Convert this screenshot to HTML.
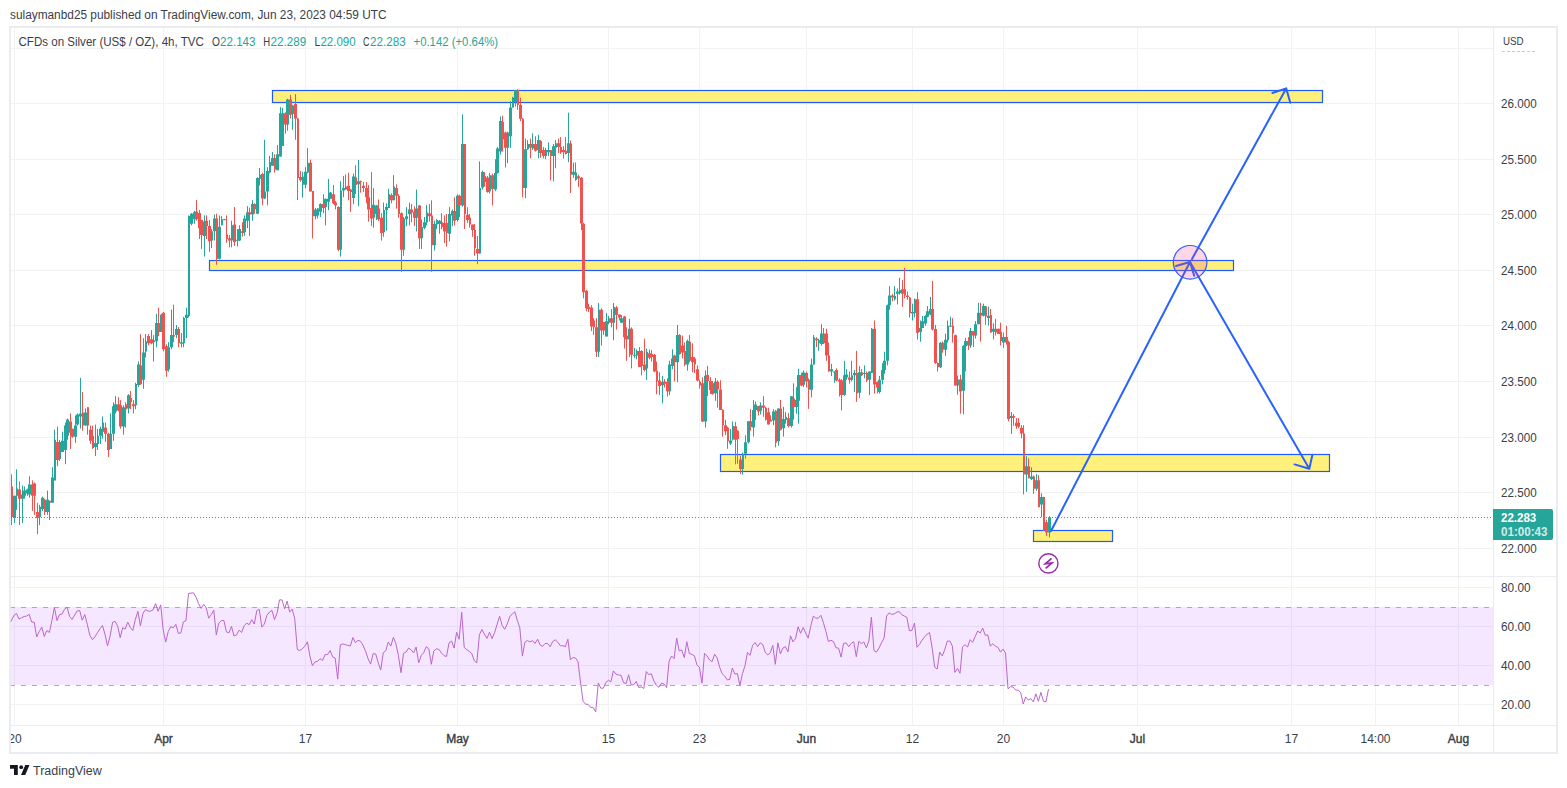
<!DOCTYPE html><html><head><meta charset="utf-8"><style>html,body{margin:0;padding:0;background:#fff;width:1567px;height:788px;overflow:hidden;position:relative}</style></head><body><svg width="1567" height="788" viewBox="0 0 1567 788" style="position:absolute;left:0;top:0;display:block"><rect x="0" y="0" width="1567" height="788" fill="#FFFFFF"/><path d="M14.5 27V725 M163.5 27V725 M305.5 27V725 M457.5 27V725 M608.5 27V725 M699.5 27V725 M806.5 27V725 M912.5 27V725 M1003.5 27V725 M1137.5 27V725 M1291.5 27V725 M1375.5 27V725 M1458.5 27V725 M11 48.5H1493 M11 103.5H1493 M11 159.5H1493 M11 214.5H1493 M11 270.5H1493 M11 325.5H1493 M11 381.5H1493 M11 437.5H1493 M11 492.5H1493 M11 548.5H1493 M11 587.5H1493 M11 626.5H1493 M11 665.5H1493 M11 704.5H1493" stroke="#F1F3F3" stroke-width="1" fill="none"/><rect x="11" y="607" width="1482" height="78" fill="rgba(153,21,255,0.1)"/><path d="M11 607.5H1493M11 685.5H1493" stroke="#A9ACB4" stroke-width="1" stroke-dasharray="5 6" stroke-dashoffset="1" fill="none"/><rect x="10" y="27" width="1547" height="726" fill="none" stroke="#EAECF1" stroke-width="2"/><path d="M1493.5 27V753M10 576.5H1557M10 725.5H1557" stroke="#EAECF1" stroke-width="1" fill="none"/><rect x="272.5" y="90.5" width="1050.0" height="12.0" fill="#FFF07C" stroke="#1F5BFF" stroke-width="1.2"/><rect x="209.5" y="260.5" width="1024.0" height="10.0" fill="#FFF07C" stroke="#1F5BFF" stroke-width="1.2"/><rect x="720.5" y="454.5" width="609.0" height="17.0" fill="#FFF07C" stroke="#1F5BFF" stroke-width="1.2"/><rect x="1033.5" y="530.5" width="79.0" height="11.0" fill="#FFF07C" stroke="#1F5BFF" stroke-width="1.2"/><path d="M14.5 495.7V523.1M16.5 469.3V509.9M22.5 485.5V523.1M24.5 486.5V498.7M27.5 488.6V495.7M29.5 476.4V497.7M39.5 504.8V525.1M42.5 496.7V510.9M47.5 490.6V514.9M52.5 467.2V502.8M54.5 429.7V480.4M59.5 439.8V461.1M62.5 431.7V452.0M65.5 422.6V464.2M67.5 418.5V439.8M75.5 415.5V442.9M77.5 413.4V425.6M80.5 377.9V428.7M85.5 408.4V425.6M95.5 424.6V456.1M97.5 428.7V450.0M100.5 426.6V443.9M102.5 416.5V438.8M110.5 413.4V449.0M113.5 402.3V440.8M115.5 396.2V413.4M123.5 405.3V434.7M128.5 394.1V413.4M135.5 382.8V409.2M138.5 361.5V386.9M143.5 338.2V388.9M145.5 334.1V357.5M153.5 335.1V361.5M156.5 313.8V347.3M161.5 313.8V332.1M168.5 342.2V371.7M171.5 309.7V349.3M176.5 325.0V338.2M181.5 333.1V347.3M183.5 316.9V347.3M186.5 307.7V338.2M188.5 215.4V317.4M191.5 213.1V225.3M194.5 210.8V223.7M204.5 215.4V256.5M211.5 229.1V248.1M214.5 214.6V240.5M219.5 215.4V259.5M221.5 216.1V225.3M224.5 218.9V220.1M231.5 220.7V247.3M237.5 229.1V246.6M239.5 225.3V241.2M244.5 215.4V235.9M247.5 206.2V228.3M252.5 200.1V220.7M257.5 177.3V213.8M259.5 168.0V185.5M264.5 139.8V199.2M267.5 167.2V205.3M269.5 155.8V173.3M272.5 152.0V165.7M277.5 145.1V170.3M280.5 107.1V156.6M282.5 107.8V145.9M287.5 98.7V130.7M292.5 104.8V129.9M302.5 171.8V197.7M305.5 167.2V188.5M307.5 148.2V173.3M315.5 207.9V219.3M317.5 207.9V218.5M320.5 203.3V217.0M325.5 198.7V225.4M328.5 178.9V210.1M330.5 191.9V198.7M340.5 181.2V256.6M343.5 175.9V197.2M353.5 173.6V204.1M358.5 159.9V206.3M373.5 188.1V227.7M376.5 204.8V220.0M383.5 202.5V236.8M386.5 203.3V230.7M388.5 188.8V207.9M393.5 175.1V200.3M403.5 217.0V255.8M406.5 207.1V226.1M409.5 202.5V225.4M416.5 189.6V231.5M421.5 219.3V249.0M424.5 217.0V229.2M426.5 204.8V225.4M434.5 220.8V250.5M436.5 219.3V229.2M439.5 220.0V233.8M449.5 207.1V241.4M452.5 209.4V226.1M457.5 194.2V221.6M462.5 114.3V206.8M479.5 161.4V253.5M482.5 170.6V189.6M489.5 172.9V193.4M495.5 159.2V191.2M497.5 147.0V173.7M500.5 116.5V154.6M507.5 131.8V163.0M510.5 101.3V147.8M512.5 96.8V107.4M515.5 89.9V106.6M525.5 138.6V198.0M527.5 140.1V150.0M532.5 133.3V150.0M538.5 134.8V158.4M545.5 147.8V159.2M548.5 142.4V156.1M553.5 144.0V181.3M555.5 140.1V168.3M568.5 112.7V162.2M573.5 162.5V177.8M575.5 162.5V180.8M598.5 302.9V357.0M606.5 312.8V336.4M608.5 315.9V324.3M613.5 302.9V340.3M621.5 315.1V322.7M629.5 318.9V357.0M634.5 347.9V357.8M636.5 349.4V359.3M646.5 348.6V379.8M662.5 376.0V403.4M669.5 360.8V395.1M672.5 349.4V369.2M677.5 325.0V382.1M687.5 339.5V370.7M705.5 370.4V427.5M715.5 378.0V400.8M730.5 429.0V445.0M732.5 421.4V440.4M742.5 452.4V474.6M745.5 435.2V458.7M748.5 421.3V443.5M753.5 400.0V436.6M755.5 401.6V419.8M760.5 402.3V414.5M773.5 409.2V425.2M778.5 408.4V445.7M783.5 406.9V436.6M785.5 412.2V423.7M791.5 396.2V427.5M796.5 387.1V413.8M798.5 368.8V423.7M803.5 370.4V387.1M811.5 358.5V397.4M813.5 334.9V364.6M818.5 338.7V350.9M821.5 324.3V345.6M831.5 363.9V376.0M834.5 371.5V382.9M844.5 360.8V395.8M846.5 369.2V379.8M851.5 360.8V381.4M854.5 369.9V392.0M859.5 366.1V398.1M864.5 365.4V378.3M869.5 371.5V395.1M871.5 328.1V373.0M879.5 376.0V393.5M882.5 363.1V384.4M884.5 351.7V373.8M887.5 304.5V365.4M889.5 286.2V309.8M894.5 286.2V300.7M897.5 288.5V304.5M899.5 277.8V294.6M912.5 303.7V320.5M914.5 298.4V317.4M920.5 320.5V341.8M922.5 315.9V328.1M925.5 315.1V325.8M927.5 306.0V317.4M930.5 296.9V315.1M940.5 342.1V368.0M945.5 333.7V355.8M947.5 320.5V342.6M950.5 316.7V326.6M957.5 375.6V394.6M963.5 345.1V414.4M965.5 337.9V371.4M970.5 328.0V347.8M975.5 321.1V338.6M978.5 302.8V324.2M983.5 303.6V316.5M988.5 306.6V325.7M993.5 323.4V339.4M1003.5 332.5V347.8M1011.5 412.0V433.9M1026.5 456.2V491.8M1031.5 467.4V480.1M1036.5 474.1V490.8M1041.5 493.4V517.2M1049.5 516.2V537.5" stroke="#26A69A" stroke-width="1" fill="none"/><path d="M13 495.7H16V518.0H13ZM16 488.6H18V495.7H16ZM21 494.6H24V498.7H21ZM23 490.6H26V495.7H23ZM26 489.6H29V493.6H26ZM28 484.5H31V494.6H28ZM39 506.8H41V517.0H39ZM41 497.7H44V508.9H41ZM46 499.7H49V511.9H46ZM51 477.4H54V502.8H51ZM54 439.8H56V480.4H54ZM59 441.9H61V459.1H59ZM61 440.8H64V452.0H61ZM64 425.6H67V450.0H64ZM66 419.5H69V435.8H66ZM74 425.6H77V436.8H74ZM76 414.4H79V424.6H76ZM79 413.4H82V416.5H79ZM84 412.4H87V425.6H84ZM94 442.9H97V446.9H94ZM97 435.8H99V443.9H97ZM99 428.7H102V435.8H99ZM102 422.6H104V431.7H102ZM109 433.7H112V449.0H109ZM112 406.3H115V433.7H112ZM114 404.3H117V411.4H114ZM122 407.3H125V426.6H122ZM127 395.2H130V408.4H127ZM135 383.9H137V405.2H135ZM137 364.6H140V384.9H137ZM142 352.4H145V379.8H142ZM145 341.2H147V351.4H145ZM152 340.2H155V342.2H152ZM155 322.9H158V341.2H155ZM160 314.8H163V332.1H160ZM168 347.3H170V369.6H168ZM170 335.1H173V347.3H170ZM175 329.0H178V335.1H175ZM180 342.2H183V343.7H180ZM183 317.9H185V343.2H183ZM185 314.8H188V317.9H185ZM188 216.1H190V315.7H188ZM190 213.8H193V223.7H190ZM193 212.3H196V219.2H193ZM203 221.4H206V235.9H203ZM211 231.3H213V240.5H211ZM213 218.4H216V231.3H213ZM218 226.8H221V258.8H218ZM221 219.2H223V225.3H221ZM223 219.2H226V220.2H223ZM231 225.3H233V240.5H231ZM236 239.7H239V240.7H236ZM238 229.1H241V240.5H238ZM243 218.4H246V232.1H243ZM246 212.3H249V220.7H246ZM251 203.9H254V214.6H251ZM256 178.0H259V213.8H256ZM259 174.8H261V178.7H259ZM264 191.6H266V198.4H264ZM266 171.0H269V191.6H266ZM269 161.9H271V172.6H269ZM271 158.1H274V165.7H271ZM276 154.3H279V170.3H276ZM279 113.2H282V156.6H279ZM281 113.2H284V145.9H281ZM286 99.5H289V124.6H286ZM291 105.6H294V113.9H291ZM302 176.4H304V184.7H302ZM304 171.8H307V184.7H304ZM307 162.7H309V172.6H307ZM314 209.4H317V216.2H314ZM317 208.6H319V215.5H317ZM319 204.1H322V211.7H319ZM324 198.7H327V207.1H324ZM327 198.7H330V201.8H327ZM329 192.6H332V198.7H329ZM340 190.4H342V249.7H340ZM342 188.1H345V190.4H342ZM352 176.6H355V198.0H352ZM357 181.2H360V184.3H357ZM372 204.8H375V217.8H372ZM375 205.6H378V214.0H375ZM383 210.1H385V232.2H383ZM385 207.1H388V210.1H385ZM388 194.2H390V207.9H388ZM393 186.5H395V200.3H393ZM403 218.5H405V249.7H403ZM405 216.2H408V219.3H405ZM408 209.4H411V214.0H408ZM415 208.6H418V217.8H415ZM420 226.9H423V238.3H420ZM423 222.3H426V227.7H423ZM426 212.4H428V222.3H426ZM433 223.9H436V245.2H433ZM436 220.0H438V224.6H436ZM438 220.8H441V223.9H438ZM448 214.0H451V233.8H448ZM451 210.9H454V215.5H451ZM456 195.7H459V220.0H456ZM461 144.0H464V205.6H461ZM479 188.1H481V253.5H479ZM481 172.1H484V187.4H481ZM489 175.2H491V191.2H489ZM494 172.9H497V189.6H494ZM496 148.5H499V172.9H496ZM499 121.1H502V151.6H499ZM507 132.5H509V147.8H507ZM509 107.4H512V136.3H509ZM512 97.5H514V107.4H512ZM514 89.9H517V102.1H514ZM524 149.3H527V188.1H524ZM527 144.0H529V149.3H527ZM532 144.0H534V148.5H532ZM537 140.1H540V150.0H537ZM544 150.0H547V156.1H544ZM547 150.0H550V152.3H547ZM552 146.2H555V156.1H552ZM555 143.2H557V147.8H555ZM567 143.2H570V153.1H567ZM572 171.7H575V174.7H572ZM575 172.4H577V180.0H575ZM598 309.8H600V351.7H598ZM605 321.2H608V336.4H605ZM608 318.2H610V322.7H608ZM613 306.8H615V322.7H613ZM620 318.2H623V322.7H620ZM628 328.8H631V339.5H628ZM633 354.7H636V355.7H633ZM636 350.9H638V355.5H636ZM646 351.7H648V368.4H646ZM661 382.1H664V385.2H661ZM668 364.6H671V391.3H668ZM671 358.5H674V366.1H671ZM676 334.9H679V362.3H676ZM686 341.0H689V364.6H686ZM704 375.7H707V421.4H704ZM714 381.8H717V393.2H714ZM729 440.4H732V443.4H729ZM732 425.9H734V439.6H732ZM742 453.7H744V468.9H742ZM744 442.2H747V453.7H744ZM747 421.3H750V442.2H747ZM752 409.9H755V427.5H752ZM754 404.6H757V409.9H754ZM759 405.4H762V410.7H759ZM772 411.5H775V420.6H772ZM777 408.4H780V441.2H777ZM782 419.1H785V428.2H782ZM785 416.8H787V419.8H785ZM790 396.2H793V425.9H790ZM795 400.0H798V406.9H795ZM797 374.9H800V400.8H797ZM802 372.6H805V384.8H802ZM810 364.6H813V389.7H810ZM813 337.2H815V364.6H813ZM818 340.3H820V343.3H818ZM820 333.4H823V344.1H820ZM830 369.2H833V371.5H830ZM833 371.5H836V372.5H833ZM843 375.3H846V395.1H843ZM845 374.5H848V377.6H845ZM851 375.3H853V379.8H851ZM853 373.0H856V375.3H853ZM858 372.2H861V392.8H858ZM863 373.0H866V374.0H863ZM868 371.5H871V379.8H868ZM871 328.8H873V373.0H871ZM878 379.8H881V392.0H878ZM881 369.9H884V379.8H881ZM883 360.8H886V369.9H883ZM886 305.2H889V360.8H886ZM888 295.4H891V305.3H888ZM894 296.1H896V299.2H894ZM896 291.5H899V293.8H896ZM899 290.0H901V293.1H899ZM911 312.1H914V313.6H911ZM914 299.2H916V312.9H914ZM919 328.1H922V331.9H919ZM921 321.2H924V328.1H921ZM924 315.9H927V323.5H924ZM926 311.3H929V316.7H926ZM929 309.1H932V314.4H929ZM939 342.8H942V367.2H939ZM944 339.8H947V349.7H944ZM947 325.8H949V340.3H947ZM949 325.8H952V326.8H949ZM957 379.4H959V385.5H957ZM962 345.9H965V390.8H962ZM964 340.9H967V346.2H964ZM969 331.0H972V345.5H969ZM974 324.2H977V335.6H974ZM977 312.7H980V324.2H977ZM982 305.9H985V315.8H982ZM987 315.8H990V318.1H987ZM992 328.7H995V331.8H992ZM1002 337.1H1005V342.4H1002ZM1010 416.1H1013V418.1H1010ZM1025 466.3H1028V474.6H1025ZM1030 476.5H1033V479.0H1030ZM1035 480.2H1038V488.8H1035ZM1040 496.9H1043V504.5H1040ZM1048 517.2H1051V532.4H1048Z" fill="#26A69A"/><path d="M11.5 474.3V525.1M19.5 481.4V525.1M32.5 480.4V510.9M34.5 482.5V514.9M37.5 502.8V534.2M44.5 498.7V514.9M49.5 500.7V520.0M57.5 426.6V466.2M70.5 413.4V449.0M72.5 428.7V437.8M82.5 392.1V430.7M87.5 407.3V434.7M90.5 425.6V443.9M92.5 425.6V449.0M105.5 422.6V441.9M108.5 432.7V457.1M118.5 397.2V411.4M120.5 400.2V428.7M125.5 402.3V427.6M130.5 391.0V409.2M133.5 400.1V413.3M140.5 334.1V384.9M148.5 334.1V345.3M151.5 330.1V344.3M158.5 307.7V336.1M163.5 311.8V351.4M166.5 344.3V376.8M173.5 304.7V342.2M178.5 327.0V347.3M196.5 200.1V220.7M199.5 210.0V239.0M201.5 219.9V248.9M206.5 215.4V239.0M209.5 219.9V251.9M216.5 213.8V264.8M226.5 215.4V242.8M229.5 235.1V247.3M234.5 207.0V245.8M242.5 222.2V236.7M249.5 207.7V235.9M254.5 203.2V213.8M262.5 172.6V205.3M274.5 154.3V172.6M285.5 112.4V133.7M290.5 94.9V118.5M295.5 94.1V139.8M297.5 117.7V200.0M300.5 171.0V181.7M310.5 159.6V191.6M312.5 191.1V238.3M323.5 194.2V213.2M333.5 185.0V204.1M335.5 201.0V209.4M338.5 206.3V251.3M345.5 174.4V189.6M348.5 172.8V200.3M350.5 188.8V211.7M355.5 165.2V194.2M360.5 180.5V192.6M363.5 182.0V191.9M366.5 182.0V203.3M368.5 185.0V221.6M371.5 172.1V226.1M378.5 199.5V220.8M381.5 213.2V240.6M391.5 193.4V203.3M396.5 184.3V208.6M398.5 194.2V217.8M401.5 212.4V271.8M411.5 204.1V222.3M414.5 206.3V226.1M419.5 204.8V249.0M429.5 204.1V221.6M431.5 200.3V271.8M441.5 213.2V229.2M444.5 215.5V242.9M446.5 214.0V246.7M454.5 197.2V225.4M459.5 194.9V217.0M464.5 144.0V229.1M467.5 207.1V223.1M469.5 214.0V227.7M472.5 224.6V236.8M474.5 223.9V255.8M477.5 236.0V264.2M484.5 172.1V186.6M487.5 175.9V192.7M492.5 173.7V205.5M502.5 115.8V151.6M505.5 131.8V167.6M517.5 89.1V109.7M520.5 97.5V121.1M522.5 118.1V197.3M530.5 138.6V158.4M535.5 136.3V151.6M540.5 140.1V157.7M543.5 147.0V158.4M550.5 150.0V180.5M558.5 138.6V153.1M560.5 137.1V153.9M563.5 146.2V158.4M565.5 137.1V154.6M570.5 140.5V193.0M578.5 174.7V186.9M581.5 177.0V230.0M583.5 222.9V298.3M586.5 290.0V311.3M588.5 303.7V312.1M591.5 305.2V331.1M593.5 318.2V334.9M596.5 318.2V357.0M601.5 308.3V345.6M603.5 322.0V334.9M611.5 309.0V327.3M616.5 306.0V329.6M619.5 314.4V320.5M624.5 315.9V348.6M626.5 327.3V360.8M631.5 327.3V368.4M639.5 347.1V366.9M641.5 350.1V375.3M644.5 338.7V371.5M649.5 349.4V359.3M651.5 350.1V361.6M654.5 354.0V372.2M656.5 361.6V394.3M659.5 372.2V395.1M664.5 379.1V387.5M667.5 378.3V396.6M674.5 354.7V381.4M679.5 334.2V354.7M682.5 335.7V358.5M684.5 342.5V366.1M689.5 334.9V362.3M692.5 343.3V372.2M694.5 357.0V373.0M697.5 365.4V381.4M699.5 379.5V388.6M702.5 377.2V422.1M707.5 365.8V396.2M710.5 377.2V394.0M712.5 381.0V394.7M717.5 380.3V407.7M720.5 380.3V409.9M722.5 409.2V436.6M725.5 419.8V435.1M727.5 426.7V448.8M735.5 421.9V464.4M737.5 430.2V463.8M740.5 455.6V474.0M750.5 409.2V430.8M758.5 406.1V415.3M763.5 396.2V416.8M765.5 406.9V420.6M768.5 407.7V424.4M770.5 415.3V421.4M775.5 409.9V447.3M780.5 400.0V430.5M788.5 413.0V427.5M793.5 383.3V419.8M801.5 372.6V386.3M806.5 371.5V387.5M808.5 378.3V408.8M816.5 337.2V347.1M823.5 328.1V344.1M826.5 328.8V360.8M828.5 342.5V371.5M836.5 368.4V381.4M839.5 378.3V396.6M841.5 379.1V410.3M849.5 371.5V383.7M856.5 350.9V401.9M861.5 369.2V376.0M866.5 371.5V382.1M874.5 320.5V393.5M877.5 381.4V393.5M892.5 293.8V301.4M902.5 280.1V306.8M904.5 267.9V298.4M907.5 291.5V299.9M909.5 296.9V317.4M917.5 292.3V339.5M932.5 280.9V330.4M935.5 325.0V363.9M937.5 362.4V371.5M942.5 341.3V352.7M952.5 318.2V342.6M955.5 334.5V385.5M960.5 374.8V413.7M968.5 337.1V350.0M973.5 331.0V347.0M980.5 302.8V341.7M985.5 305.9V324.9M990.5 308.9V332.5M995.5 318.8V335.6M998.5 328.7V334.1M1000.5 322.6V345.5M1006.5 325.7V344.7M1008.5 340.6V421.3M1013.5 414.1V425.7M1016.5 418.1V428.8M1018.5 418.1V428.3M1021.5 425.2V438.4M1023.5 425.2V494.4M1028.5 458.2V478.5M1033.5 475.5V493.9M1038.5 475.1V507.6M1043.5 496.9V530.9M1046.5 519.7V536.0" stroke="#EF5350" stroke-width="1" fill="none"/><path d="M11 486.5H13V517.0H11ZM18 489.6H21V498.7H18ZM31 484.5H34V495.7H31ZM33 483.5H36V495.7H33ZM36 511.9H39V518.0H36ZM44 499.7H46V511.9H44ZM49 500.7H51V502.8H49ZM56 441.9H59V460.1H56ZM69 421.5H72V432.7H69ZM71 428.7H74V436.8H71ZM82 412.4H84V425.6H82ZM87 407.3H89V425.6H87ZM89 429.7H92V440.8H89ZM92 435.8H94V447.9H92ZM104 427.6H107V433.7H104ZM107 433.7H110V450.0H107ZM117 404.3H120V410.4H117ZM119 405.3H122V426.6H119ZM125 404.3H127V409.4H125ZM130 398.1H132V402.1H130ZM132 404.2H135V406.2H132ZM140 365.6H142V383.9H140ZM147 336.1H150V343.2H147ZM150 339.2H153V343.2H150ZM157 322.9H160V332.1H157ZM162 312.8H165V349.3H162ZM165 346.3H168V370.7H165ZM173 335.1H175V336.8H173ZM178 329.0H180V343.2H178ZM195 211.5H198V219.2H195ZM198 213.1H201V228.3H198ZM200 219.9H203V235.1H200ZM205 220.7H208V226.0H205ZM208 226.0H211V241.2H208ZM216 218.4H218V258.8H216ZM226 234.4H228V239.0H226ZM228 238.2H231V240.5H228ZM233 224.5H236V242.0H233ZM241 231.3H244V232.9H241ZM248 212.3H251V214.6H248ZM254 203.9H256V209.3H254ZM261 174.1H264V198.4H261ZM274 158.1H276V169.5H274ZM284 113.2H287V124.6H284ZM289 99.5H292V114.7H289ZM294 104.0H297V118.5H294ZM297 118.5H299V177.9H297ZM299 177.1H302V180.2H299ZM309 162.7H312V191.6H309ZM312 191.1H314V216.2H312ZM322 204.1H325V207.9H322ZM332 194.2H335V203.3H332ZM334 202.5H337V205.6H334ZM337 207.1H340V249.7H337ZM345 186.5H347V189.6H345ZM347 185.8H350V191.1H347ZM350 189.6H352V191.9H350ZM355 177.4H357V185.0H355ZM360 181.2H362V182.3H360ZM362 185.8H365V188.1H362ZM365 188.1H368V197.2H365ZM367 197.2H370V209.4H367ZM370 207.9H373V218.5H370ZM377 208.6H380V219.3H377ZM380 217.8H383V233.0H380ZM390 194.9H393V200.3H390ZM395 188.1H398V195.7H395ZM398 195.7H400V214.0H398ZM400 213.2H403V249.7H400ZM410 209.4H413V212.4H410ZM413 211.7H416V217.8H413ZM418 205.6H421V238.3H418ZM428 213.2H431V216.2H428ZM431 215.5H433V245.2H431ZM441 222.3H443V226.9H441ZM443 223.1H446V231.5H443ZM446 223.1H448V233.0H446ZM453 210.9H456V220.8H453ZM458 195.7H461V205.6H458ZM464 144.0H466V214.0H464ZM466 214.7H469V220.0H466ZM469 217.8H471V224.6H469ZM471 224.6H474V229.9H471ZM474 229.9H476V248.2H474ZM476 249.0H479V253.5H476ZM484 175.9H486V182.0H484ZM486 177.5H489V191.9H486ZM491 175.2H494V188.9H491ZM501 121.9H504V139.4H501ZM504 132.5H507V147.8H504ZM517 89.9H519V105.1H517ZM519 105.1H522V118.8H519ZM522 118.8H524V188.1H522ZM529 144.0H532V147.8H529ZM534 144.0H537V150.8H534ZM539 140.9H542V153.1H539ZM542 150.0H545V156.1H542ZM550 150.0H552V156.1H550ZM557 143.2H560V147.0H557ZM560 147.0H562V152.3H560ZM562 150.0H565V152.3H562ZM565 150.8H567V153.9H565ZM570 143.5H572V174.7H570ZM577 176.2H580V178.5H577ZM580 177.8H583V223.4H580ZM582 223.7H585V292.2H582ZM585 290.8H588V308.3H585ZM587 306.8H590V309.0H587ZM590 307.5H593V326.5H590ZM593 320.5H595V327.3H593ZM595 327.3H598V351.7H595ZM600 309.8H603V330.4H600ZM603 322.0H605V330.4H603ZM610 318.2H613V322.7H610ZM615 307.5H618V315.1H615ZM618 314.4H621V317.4H618ZM623 316.6H626V337.2H623ZM625 335.7H628V339.5H625ZM630 328.8H633V354.7H630ZM638 350.9H641V366.9H638ZM641 350.9H643V366.1H641ZM643 364.6H646V369.9H643ZM648 353.2H651V357.8H648ZM651 354.0H653V357.0H651ZM653 354.7H656V371.5H653ZM656 370.7H658V381.4H656ZM658 380.6H661V385.9H658ZM663 381.4H666V383.7H663ZM666 382.1H669V391.3H666ZM673 355.5H676V362.3H673ZM679 334.9H681V354.0H679ZM681 345.6H684V352.4H681ZM684 350.9H686V364.6H684ZM689 341.8H691V360.8H689ZM691 357.0H694V362.3H691ZM694 358.5H696V364.6H694ZM696 369.2H699V380.6H696ZM699 381.8H701V385.6H699ZM701 383.3H704V421.4H701ZM706 374.9H709V381.0H706ZM709 381.0H712V390.1H709ZM711 383.3H714V394.0H711ZM716 381.8H719V389.4H716ZM719 389.4H722V409.9H719ZM722 409.9H724V425.2H722ZM724 425.2H727V431.3H724ZM727 427.5H729V441.2H727ZM734 426.3H737V439.7H734ZM737 430.8H739V439.0H737ZM739 459.4H742V468.9H739ZM749 421.3H752V427.0H749ZM757 406.1H760V411.5H757ZM762 405.4H765V407.7H762ZM765 407.7H767V419.8H765ZM767 412.2H770V424.4H767ZM770 419.8H772V421.4H770ZM775 410.7H777V442.7H775ZM780 408.4H782V429.7H780ZM787 418.3H790V425.9H787ZM792 398.5H795V406.9H792ZM800 374.9H803V385.6H800ZM805 373.0H808V381.4H805ZM808 379.8H810V389.7H808ZM815 338.7H818V340.3H815ZM823 333.4H825V343.3H823ZM825 333.4H828V355.5H825ZM828 355.5H830V371.5H828ZM835 369.9H838V380.6H835ZM838 379.8H841V381.4H838ZM840 380.6H843V395.1H840ZM848 377.6H851V379.8H848ZM856 373.0H858V393.5H856ZM861 372.2H863V375.3H861ZM866 373.0H868V380.6H866ZM873 328.8H876V384.4H873ZM876 382.1H879V387.5H876ZM891 295.4H894V297.6H891ZM901 289.3H904V293.8H901ZM904 289.3H906V295.4H904ZM906 295.4H909V296.9H906ZM909 297.6H911V312.9H909ZM916 299.2H919V332.7H916ZM931 309.1H934V329.6H931ZM934 328.9H937V363.1H934ZM937 363.1H939V366.9H937ZM942 342.8H944V349.7H942ZM952 325.8H954V333.4H952ZM954 335.2H957V385.5H954ZM959 379.4H962V391.6H959ZM967 340.9H970V345.5H967ZM972 331.0H975V335.6H972ZM980 312.7H982V315.8H980ZM985 306.6H987V316.5H985ZM990 315.0H992V332.5H990ZM995 328.7H997V332.5H995ZM997 328.7H1000V334.1H997ZM1000 331.8H1002V340.9H1000ZM1005 337.1H1008V342.4H1005ZM1007 342.1H1010V419.0H1007ZM1012 416.1H1015V417.6H1012ZM1015 422.7H1018V426.2H1015ZM1017 422.7H1020V426.8H1017ZM1020 427.8H1023V433.4H1020ZM1023 433.4H1025V474.5H1023ZM1028 466.3H1030V478.0H1028ZM1033 476.5H1035V488.8H1033ZM1038 480.2H1040V507.1H1038ZM1043 496.9H1045V530.4H1043ZM1045 522.3H1048V532.4H1045Z" fill="#EF5350"/><path d="M11 517.5H1493" stroke="#26A69A" stroke-width="1" stroke-dasharray="1 2" fill="none"/><path d="M10.9 621.6 L13.9 615.4 L16.5 613.5 L19.0 619.1 L21.5 617.8 L24.1 616.5 L26.6 616.1 L29.1 614.3 L31.7 622.1 L34.2 622.1 L36.7 637.0 L39.2 631.5 L41.8 627.2 L44.3 636.5 L46.8 630.5 L49.4 632.5 L51.9 620.7 L54.4 607.5 L57.0 620.6 L59.5 614.5 L62.0 614.1 L64.5 609.2 L67.1 607.2 L69.6 616.6 L72.1 619.4 L74.7 615.0 L77.2 610.9 L79.7 610.5 L82.2 620.2 L84.8 614.6 L87.3 624.6 L89.8 635.1 L92.4 639.7 L94.9 636.8 L97.4 632.8 L100.0 628.8 L102.5 625.5 L105.0 634.4 L107.5 645.9 L110.1 636.0 L112.6 622.3 L115.1 621.4 L117.7 626.1 L120.2 637.7 L122.7 627.7 L125.2 629.1 L127.8 622.1 L130.3 627.5 L132.8 630.6 L135.4 619.3 L137.9 611.4 L140.4 625.7 L143.0 613.3 L145.5 609.6 L148.0 611.1 L150.5 611.1 L153.1 609.9 L155.6 603.5 L158.1 611.3 L160.7 604.9 L163.2 629.9 L165.7 642.1 L168.2 631.6 L170.8 626.7 L173.3 627.7 L175.8 624.4 L178.4 633.4 L180.9 632.9 L183.4 621.9 L186.0 620.6 L188.5 593.5 L191.0 593.1 L193.5 592.8 L196.1 597.5 L198.6 603.7 L201.1 608.4 L203.7 604.4 L206.2 607.6 L208.7 618.2 L211.3 614.6 L213.8 610.1 L216.3 634.9 L218.8 623.1 L221.4 620.5 L223.9 620.5 L226.4 631.9 L229.0 632.8 L231.5 626.4 L234.0 636.0 L236.5 635.0 L239.1 630.1 L241.6 632.5 L244.1 625.8 L246.7 623.1 L249.2 624.7 L251.7 619.7 L254.3 624.0 L256.8 610.6 L259.3 609.4 L261.8 627.1 L264.4 624.0 L266.9 615.4 L269.4 612.0 L272.0 610.5 L274.5 619.6 L277.0 613.3 L279.5 599.9 L282.1 599.9 L284.6 608.9 L287.1 601.1 L289.7 612.1 L292.2 609.1 L294.7 618.2 L297.3 649.6 L299.8 650.6 L302.3 648.7 L304.8 646.4 L307.4 641.8 L309.9 655.9 L312.4 665.7 L315.0 661.9 L317.5 661.4 L320.0 658.7 L322.5 660.5 L325.1 654.6 L327.6 654.6 L330.1 650.5 L332.7 656.9 L335.2 658.2 L337.7 679.1 L340.3 644.9 L342.8 643.9 L345.3 644.6 L347.8 645.4 L350.4 645.9 L352.9 637.5 L355.4 642.6 L358.0 640.4 L360.5 641.2 L363.0 645.2 L365.6 651.3 L368.1 658.8 L370.6 664.1 L373.1 653.6 L375.7 654.0 L378.2 662.6 L380.7 670.1 L383.3 652.7 L385.8 650.6 L388.3 642.0 L390.8 646.1 L393.4 637.3 L395.9 643.8 L398.4 655.4 L401.0 672.7 L403.5 653.3 L406.0 652.1 L408.6 648.1 L411.1 649.8 L413.6 652.9 L416.1 647.0 L418.7 662.9 L421.2 655.6 L423.7 652.7 L426.3 646.6 L428.8 648.9 L431.3 664.3 L433.8 651.0 L436.4 648.8 L438.9 649.3 L441.4 652.9 L444.0 655.6 L446.5 656.5 L449.0 643.0 L451.6 641.0 L454.1 648.1 L456.6 632.3 L459.1 639.3 L461.7 612.3 L464.2 647.3 L466.7 649.6 L469.3 651.4 L471.8 653.6 L474.3 660.8 L476.8 662.9 L479.4 634.8 L481.9 629.5 L484.4 634.0 L487.0 638.4 L489.5 632.2 L492.0 638.6 L494.6 632.6 L497.1 624.3 L499.6 616.2 L502.1 625.3 L504.7 629.3 L507.2 624.2 L509.7 616.7 L512.3 613.9 L514.8 611.8 L517.3 620.4 L519.8 627.8 L522.4 656.1 L524.9 642.3 L527.4 640.5 L530.0 642.0 L532.5 640.6 L535.0 643.5 L537.6 639.2 L540.1 645.0 L542.6 646.4 L545.1 643.5 L547.7 643.5 L550.2 646.8 L552.7 641.5 L555.3 639.8 L557.8 642.2 L560.3 645.7 L562.9 645.7 L565.4 646.7 L567.9 639.2 L570.4 659.7 L573.0 657.5 L575.5 658.0 L578.0 661.7 L580.6 683.0 L583.1 701.2 L585.6 704.2 L588.1 704.3 L590.7 707.5 L593.2 707.6 L595.7 711.8 L598.3 683.0 L600.8 688.2 L603.3 688.2 L605.9 682.3 L608.4 680.3 L610.9 681.8 L613.4 670.9 L616.0 674.1 L618.5 675.0 L621.0 675.3 L623.6 682.7 L626.1 683.6 L628.6 674.8 L631.1 684.8 L633.7 684.8 L636.2 681.5 L638.7 687.6 L641.3 686.9 L643.8 688.4 L646.3 671.6 L648.9 674.6 L651.4 673.9 L653.9 681.0 L656.4 685.3 L659.0 687.3 L661.5 683.2 L664.0 684.0 L666.6 687.7 L669.1 661.1 L671.6 656.0 L674.1 658.6 L676.7 638.2 L679.2 651.0 L681.7 649.9 L684.3 657.6 L686.8 641.7 L689.3 653.5 L691.9 654.4 L694.4 655.8 L696.9 664.8 L699.4 667.4 L702.0 683.1 L704.5 653.4 L707.0 655.9 L709.6 660.0 L712.1 661.7 L714.6 654.2 L717.2 658.0 L719.7 667.5 L722.2 673.7 L724.7 676.1 L727.3 679.9 L729.8 679.3 L732.3 668.0 L734.9 674.1 L737.4 673.6 L739.9 685.4 L742.4 673.8 L745.0 665.7 L747.5 652.5 L750.0 655.4 L752.6 645.4 L755.1 642.5 L757.6 646.6 L760.2 642.9 L762.7 644.4 L765.2 652.2 L767.7 655.0 L770.3 652.7 L772.8 645.4 L775.3 664.3 L777.9 642.8 L780.4 653.9 L782.9 648.0 L785.4 646.7 L788.0 651.8 L790.5 635.8 L793.0 641.9 L795.6 638.4 L798.1 626.8 L800.6 633.3 L803.2 627.5 L805.7 633.0 L808.2 638.1 L810.7 626.4 L813.3 616.1 L815.8 618.1 L818.3 618.1 L820.9 615.4 L823.4 622.7 L825.9 631.3 L828.4 641.5 L831.0 640.2 L833.5 641.7 L836.0 647.7 L838.6 648.2 L841.1 657.1 L843.6 643.4 L846.2 642.9 L848.7 646.7 L851.2 643.4 L853.7 641.7 L856.3 656.7 L858.8 641.4 L861.3 643.6 L863.9 642.0 L866.4 647.8 L868.9 640.9 L871.4 617.2 L874.0 650.7 L876.5 652.1 L879.0 648.0 L881.6 642.7 L884.1 638.0 L886.6 616.0 L889.2 612.9 L891.7 614.4 L894.2 613.9 L896.7 612.2 L899.3 611.7 L901.8 614.7 L904.3 616.0 L906.9 617.4 L909.4 630.8 L911.9 630.4 L914.5 623.0 L917.0 647.3 L919.5 644.4 L922.0 640.2 L924.6 636.9 L927.1 634.1 L929.6 632.6 L932.2 648.3 L934.7 667.2 L937.2 669.0 L939.7 652.2 L942.3 656.0 L944.8 649.5 L947.3 641.1 L949.9 641.1 L952.4 646.2 L954.9 672.4 L957.5 668.4 L960.0 673.3 L962.5 647.0 L965.0 644.7 L967.6 647.0 L970.1 639.7 L972.6 642.3 L975.2 636.5 L977.7 631.0 L980.2 633.0 L982.7 628.1 L985.3 635.4 L987.8 634.9 L990.3 646.1 L992.9 643.7 L995.4 646.2 L997.9 647.3 L1000.5 652.1 L1003.0 649.1 L1005.5 653.1 L1008.0 688.8 L1010.6 686.6 L1013.1 687.1 L1015.6 690.0 L1018.2 690.2 L1020.7 692.5 L1023.2 704.0 L1025.7 696.9 L1028.3 700.0 L1030.8 698.6 L1033.3 701.9 L1035.9 693.8 L1038.4 701.3 L1040.9 692.4 L1043.5 701.2 L1046.0 701.6 L1048.5 689.1" stroke="#BA66CC" stroke-width="1" fill="none" stroke-linejoin="round"/><path d="M1051 531L1190 262M1176 266L1190 262L1194.2 275.8" stroke="#2962FF" stroke-width="2" fill="none" stroke-linecap="round" stroke-linejoin="round"/><path d="M1192 259L1286.2 88.4M1272.4 93L1286.2 88.4L1290.3 102.7" stroke="#2962FF" stroke-width="2" fill="none" stroke-linecap="round" stroke-linejoin="round"/><path d="M1190 262L1309.3 468.8M1294.5 464.4L1309.3 468.8L1312.4 454.8" stroke="#2962FF" stroke-width="2" fill="none" stroke-linecap="round" stroke-linejoin="round"/><circle cx="1190.1" cy="262.3" r="16.8" fill="rgba(242,54,140,0.2)" stroke="#3A5CF5" stroke-width="1.2"/><circle cx="1048.4" cy="563.4" r="9.6" fill="#FFFFFF" stroke="#9C27B0" stroke-width="1.4"/><path d="M1051.6 558.3L1045.2 563.9L1052 562.9L1045.6 568.4" fill="none" stroke="#9C27B0" stroke-width="1.6" stroke-linejoin="miter"/><path d="M1493 509H1551a2 2 0 0 1 2 2V538a2 2 0 0 1-2 2H1493Z" fill="#26A69A"/><text x="10" y="18.8" font-family="'Liberation Sans', sans-serif" font-size="12" fill="#3A3E49" text-anchor="start" font-weight="normal"  textLength="376.5" lengthAdjust="spacingAndGlyphs">sulaymanbd25 published on TradingView.com, Jun 23, 2023 04:59 UTC</text><text x="18.5" y="45.8" font-family="'Liberation Sans', sans-serif" font-size="12" fill="#3A3E49" text-anchor="start" font-weight="normal"  textLength="185.3" lengthAdjust="spacingAndGlyphs">CFDs on Silver (US$ / OZ), 4h, TVC</text><text x="211.9" y="45.8" font-family="'Liberation Sans', sans-serif" font-size="12" fill="#3A3E49" text-anchor="start" font-weight="normal"  textLength="7.9" lengthAdjust="spacingAndGlyphs">O</text><text x="220" y="45.8" font-family="'Liberation Sans', sans-serif" font-size="12" fill="#26A69A" text-anchor="start" font-weight="normal"  textLength="35.5" lengthAdjust="spacingAndGlyphs">22.143</text><text x="263.3" y="45.8" font-family="'Liberation Sans', sans-serif" font-size="12" fill="#3A3E49" text-anchor="start" font-weight="normal"  textLength="6.9" lengthAdjust="spacingAndGlyphs">H</text><text x="270.6" y="45.8" font-family="'Liberation Sans', sans-serif" font-size="12" fill="#26A69A" text-anchor="start" font-weight="normal"  textLength="35.6" lengthAdjust="spacingAndGlyphs">22.289</text><text x="314.6" y="45.8" font-family="'Liberation Sans', sans-serif" font-size="12" fill="#3A3E49" text-anchor="start" font-weight="normal"  textLength="5.8" lengthAdjust="spacingAndGlyphs">L</text><text x="320.4" y="45.8" font-family="'Liberation Sans', sans-serif" font-size="12" fill="#26A69A" text-anchor="start" font-weight="normal"  textLength="35.3" lengthAdjust="spacingAndGlyphs">22.090</text><text x="363" y="45.8" font-family="'Liberation Sans', sans-serif" font-size="12" fill="#3A3E49" text-anchor="start" font-weight="normal"  textLength="6.5" lengthAdjust="spacingAndGlyphs">C</text><text x="370.1" y="45.8" font-family="'Liberation Sans', sans-serif" font-size="12" fill="#26A69A" text-anchor="start" font-weight="normal"  textLength="35.6" lengthAdjust="spacingAndGlyphs">22.283</text><text x="413.5" y="45.8" font-family="'Liberation Sans', sans-serif" font-size="12" fill="#26A69A" text-anchor="start" font-weight="normal"  textLength="84.6" lengthAdjust="spacingAndGlyphs">+0.142 (+0.64%)</text><text x="1503" y="44.7" font-family="'Liberation Sans', sans-serif" font-size="11.5" fill="#3A3E49" text-anchor="start" font-weight="normal"  textLength="20.6" lengthAdjust="spacingAndGlyphs">USD</text><path d="M1502 51.5H1536" stroke="#C8CAD0" stroke-width="1" stroke-dasharray="3 2"/><text x="1501" y="108.3" font-family="'Liberation Sans', sans-serif" font-size="12" fill="#3A3E49" text-anchor="start" font-weight="normal"  textLength="35.6" lengthAdjust="spacingAndGlyphs">26.000</text><text x="1501" y="164.3" font-family="'Liberation Sans', sans-serif" font-size="12" fill="#3A3E49" text-anchor="start" font-weight="normal"  textLength="35.6" lengthAdjust="spacingAndGlyphs">25.500</text><text x="1501" y="219.3" font-family="'Liberation Sans', sans-serif" font-size="12" fill="#3A3E49" text-anchor="start" font-weight="normal"  textLength="35.6" lengthAdjust="spacingAndGlyphs">25.000</text><text x="1501" y="275.3" font-family="'Liberation Sans', sans-serif" font-size="12" fill="#3A3E49" text-anchor="start" font-weight="normal"  textLength="35.6" lengthAdjust="spacingAndGlyphs">24.500</text><text x="1501" y="330.3" font-family="'Liberation Sans', sans-serif" font-size="12" fill="#3A3E49" text-anchor="start" font-weight="normal"  textLength="35.6" lengthAdjust="spacingAndGlyphs">24.000</text><text x="1501" y="386.3" font-family="'Liberation Sans', sans-serif" font-size="12" fill="#3A3E49" text-anchor="start" font-weight="normal"  textLength="35.6" lengthAdjust="spacingAndGlyphs">23.500</text><text x="1501" y="442.3" font-family="'Liberation Sans', sans-serif" font-size="12" fill="#3A3E49" text-anchor="start" font-weight="normal"  textLength="35.6" lengthAdjust="spacingAndGlyphs">23.000</text><text x="1501" y="497.3" font-family="'Liberation Sans', sans-serif" font-size="12" fill="#3A3E49" text-anchor="start" font-weight="normal"  textLength="35.6" lengthAdjust="spacingAndGlyphs">22.500</text><text x="1501" y="553.3" font-family="'Liberation Sans', sans-serif" font-size="12" fill="#3A3E49" text-anchor="start" font-weight="normal"  textLength="35.6" lengthAdjust="spacingAndGlyphs">22.000</text><text x="1501" y="592.1" font-family="'Liberation Sans', sans-serif" font-size="12" fill="#3A3E49" text-anchor="start" font-weight="normal"  textLength="29.6" lengthAdjust="spacingAndGlyphs">80.00</text><text x="1501" y="631.1" font-family="'Liberation Sans', sans-serif" font-size="12" fill="#3A3E49" text-anchor="start" font-weight="normal"  textLength="29.6" lengthAdjust="spacingAndGlyphs">60.00</text><text x="1501" y="670.1" font-family="'Liberation Sans', sans-serif" font-size="12" fill="#3A3E49" text-anchor="start" font-weight="normal"  textLength="29.6" lengthAdjust="spacingAndGlyphs">40.00</text><text x="1501" y="709.1" font-family="'Liberation Sans', sans-serif" font-size="12" fill="#3A3E49" text-anchor="start" font-weight="normal"  textLength="29.6" lengthAdjust="spacingAndGlyphs">20.00</text><text x="1501" y="521.8" font-family="'Liberation Sans', sans-serif" font-size="12" fill="#FFFFFF" text-anchor="start" font-weight="bold"  textLength="35.2" lengthAdjust="spacingAndGlyphs">22.283</text><text x="1501" y="535.8" font-family="'Liberation Sans', sans-serif" font-size="12" fill="rgba(255,255,255,0.8)" text-anchor="start" font-weight="bold"  textLength="46.5" lengthAdjust="spacingAndGlyphs">01:00:43</text><defs><clipPath id="tclip"><rect x="11" y="726" width="1482" height="26"/></clipPath></defs><g clip-path="url(#tclip)"><text x="15" y="742.8" font-family="'Liberation Sans', sans-serif" font-size="12" fill="#3A3E49" text-anchor="middle" font-weight="normal" >20</text><text x="163.5" y="742.8" font-family="'Liberation Sans', sans-serif" font-size="12" fill="#3A3E49" text-anchor="middle" font-weight="normal" stroke="#3A3E49" stroke-width="0.4">Apr</text><text x="305.5" y="742.8" font-family="'Liberation Sans', sans-serif" font-size="12" fill="#3A3E49" text-anchor="middle" font-weight="normal" >17</text><text x="457.5" y="742.8" font-family="'Liberation Sans', sans-serif" font-size="12" fill="#3A3E49" text-anchor="middle" font-weight="normal" stroke="#3A3E49" stroke-width="0.4">May</text><text x="608.5" y="742.8" font-family="'Liberation Sans', sans-serif" font-size="12" fill="#3A3E49" text-anchor="middle" font-weight="normal" >15</text><text x="699.5" y="742.8" font-family="'Liberation Sans', sans-serif" font-size="12" fill="#3A3E49" text-anchor="middle" font-weight="normal" >23</text><text x="806.5" y="742.8" font-family="'Liberation Sans', sans-serif" font-size="12" fill="#3A3E49" text-anchor="middle" font-weight="normal" stroke="#3A3E49" stroke-width="0.4">Jun</text><text x="912.5" y="742.8" font-family="'Liberation Sans', sans-serif" font-size="12" fill="#3A3E49" text-anchor="middle" font-weight="normal" >12</text><text x="1003.5" y="742.8" font-family="'Liberation Sans', sans-serif" font-size="12" fill="#3A3E49" text-anchor="middle" font-weight="normal" >20</text><text x="1137.5" y="742.8" font-family="'Liberation Sans', sans-serif" font-size="12" fill="#3A3E49" text-anchor="middle" font-weight="normal" stroke="#3A3E49" stroke-width="0.4">Jul</text><text x="1291.5" y="742.8" font-family="'Liberation Sans', sans-serif" font-size="12" fill="#3A3E49" text-anchor="middle" font-weight="normal" >17</text><text x="1375.5" y="742.8" font-family="'Liberation Sans', sans-serif" font-size="12" fill="#3A3E49" text-anchor="middle" font-weight="normal" >14:00</text><text x="1458.5" y="742.8" font-family="'Liberation Sans', sans-serif" font-size="12" fill="#3A3E49" text-anchor="middle" font-weight="normal" stroke="#3A3E49" stroke-width="0.4">Aug</text></g><g fill="#131722"><path d="M10 765H17.8V775H14V768.8H10Z"/><circle cx="21.2" cy="767.2" r="1.9"/><path d="M25.3 765H29.5L25.2 775H21Z"/></g><text x="33" y="775" font-family="'Liberation Sans', sans-serif" font-size="12.5" fill="#3A3E49" text-anchor="start" font-weight="normal" >TradingView</text></svg></body></html>
